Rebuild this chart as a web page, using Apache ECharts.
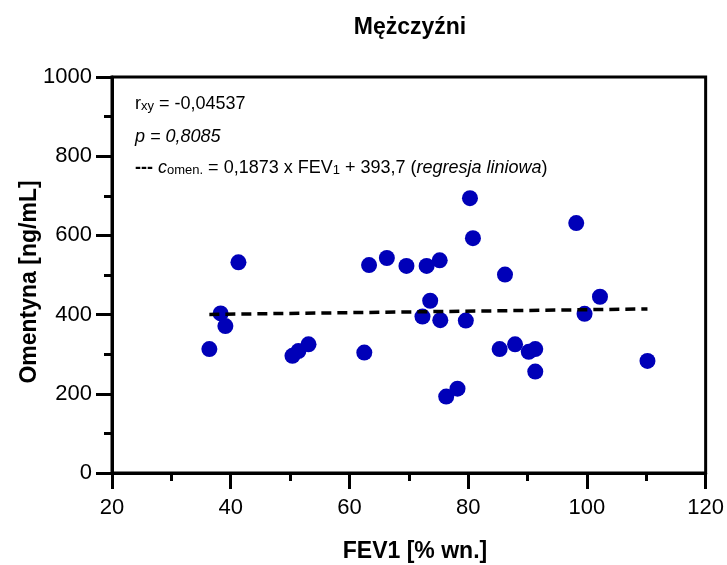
<!DOCTYPE html>
<html>
  <head>
    <meta charset="utf-8">
    <title>Mężczyźni</title>
    <style>
      html, body { margin: 0; padding: 0; background: #fff; }
      #chart { width: 727px; height: 565px; }
    </style>
  </head>
  <body>
    <div id="chart"></div>
  </body>
  <script src="https://cdn.jsdelivr.net/npm/echarts@6/dist/echarts.min.js"></script>
  <script type="text/javascript">
    // FEV1 [% wn.] i omentyna [ng/mL]
    var fev1 = [36.4, 38.3, 39.1, 41.3, 50.4, 51.4, 53.1, 62.5, 63.3, 66.3, 69.6,
      73.0, 75.2, 73.6, 72.3, 75.3, 79.6, 80.3, 80.8, 76.3, 78.2, 86.2, 85.3,
      87.9, 90.2, 91.3, 91.3, 98.2, 99.6, 102.2, 110.2];
    var omentyna = [313, 403, 371, 532, 296, 308, 325, 304, 525, 543, 523,
      523, 537, 435, 395, 386, 385, 694, 593, 193, 213, 501, 313,
      325, 306, 313, 256, 631, 402, 445, 283];
    // linia regresji (początek i koniec)
    var regX = [36.4, 110.2];
    var regY = [400.5, 414.3];
    var xTicks = [20, 120, 20]; // min, max, interval
    var yTicks = [0, 1000, 200];

    var punkty = fev1.map(function (x, i) { return [x, omentyna[i]]; });
    var linia = regX.map(function (x, i) { return [x, regY[i]]; });

    var dom = document.getElementById("chart");
    var myChart = echarts.init(dom, null, { renderer: "canvas" });

    var txt = { fontFamily: "Liberation Sans", fontSize: 18, color: "#000", lineHeight: 22, verticalAlign: "bottom" };
    var rich = {
      n: txt,
      i: Object.assign({}, txt, { fontStyle: "italic" }),
      b: Object.assign({}, txt, { fontWeight: "bold" }),
      s: { fontFamily: "Liberation Sans", fontSize: 13, color: "#000", lineHeight: 10, verticalAlign: "bottom" }
    };
    var bold = { fontFamily: "Liberation Sans", fontWeight: "bold", fontSize: 23, fill: "#000", align: "center", verticalAlign: "middle" };
    var tickFont = { fontFamily: "Liberation Sans", fontSize: 22, color: "#000" };

    var option = {
      animation: false,
      grid: {
        left: 112, right: 21, top: 77, bottom: 92,
        show: true, borderColor: "#000", borderWidth: 3
      },
      xAxis: {
        type: "value",
        min: xTicks[0], max: xTicks[1], interval: xTicks[2],
        axisLine: { lineStyle: { color: "#000", width: 3 } },
        axisTick: { length: 16, lineStyle: { color: "#000", width: 3 } },
        minorTick: { show: true, splitNumber: 2, length: 8, lineStyle: { color: "#000", width: 3 } },
        splitLine: { show: false },
        axisLabel: Object.assign({ margin: 24 }, tickFont)
      },
      yAxis: {
        type: "value",
        min: yTicks[0], max: yTicks[1], interval: yTicks[2],
        axisLine: { lineStyle: { color: "#000", width: 3 } },
        axisTick: { length: 16, lineStyle: { color: "#000", width: 3 } },
        minorTick: { show: true, splitNumber: 2, length: 8, lineStyle: { color: "#000", width: 3 } },
        splitLine: { show: false },
        axisLabel: Object.assign({ margin: 20, formatter: function (v) { return String(v); } }, tickFont)
      },
      graphic: [
        { type: "text", x: 410, y: 28, style: Object.assign({ text: "Mężczyźni" }, bold) },
        { type: "text", x: 415, y: 552, style: Object.assign({ text: "FEV1 [% wn.]" }, bold) },
        { type: "text", x: 30, y: 282, rotation: Math.PI / 2, style: Object.assign({ text: "Omentyna [ng/mL]" }, bold) },
        {
          type: "text", x: 135, y: 91,
          style: { text: "{n|r}{s|xy}{n| = -0,04537}", rich: rich }
        },
        {
          type: "text", x: 135, y: 124,
          style: { text: "{i|p = 0,8085}", rich: rich }
        },
        {
          type: "text", x: 135, y: 155,
          style: {
            text: "{b|---}{n| }{i|c}{s|omen.}{n| = 0,1873 x FEV}{s|1}{n| + 393,7 (}{i|regresja liniowa}{n|)}",
            rich: rich
          }
        }
      ],
      series: [
        {
          type: "scatter",
          data: punkty,
          symbolSize: 16,
          itemStyle: { color: "#0000b8", opacity: 1 },
          z: 3
        },
        {
          type: "line",
          data: linia,
          symbol: "none",
          lineStyle: { color: "#000", width: 3.5, type: [10, 6] },
          z: 4
        }
      ]
    };

    myChart.setOption(option);
  </script>
</html>
